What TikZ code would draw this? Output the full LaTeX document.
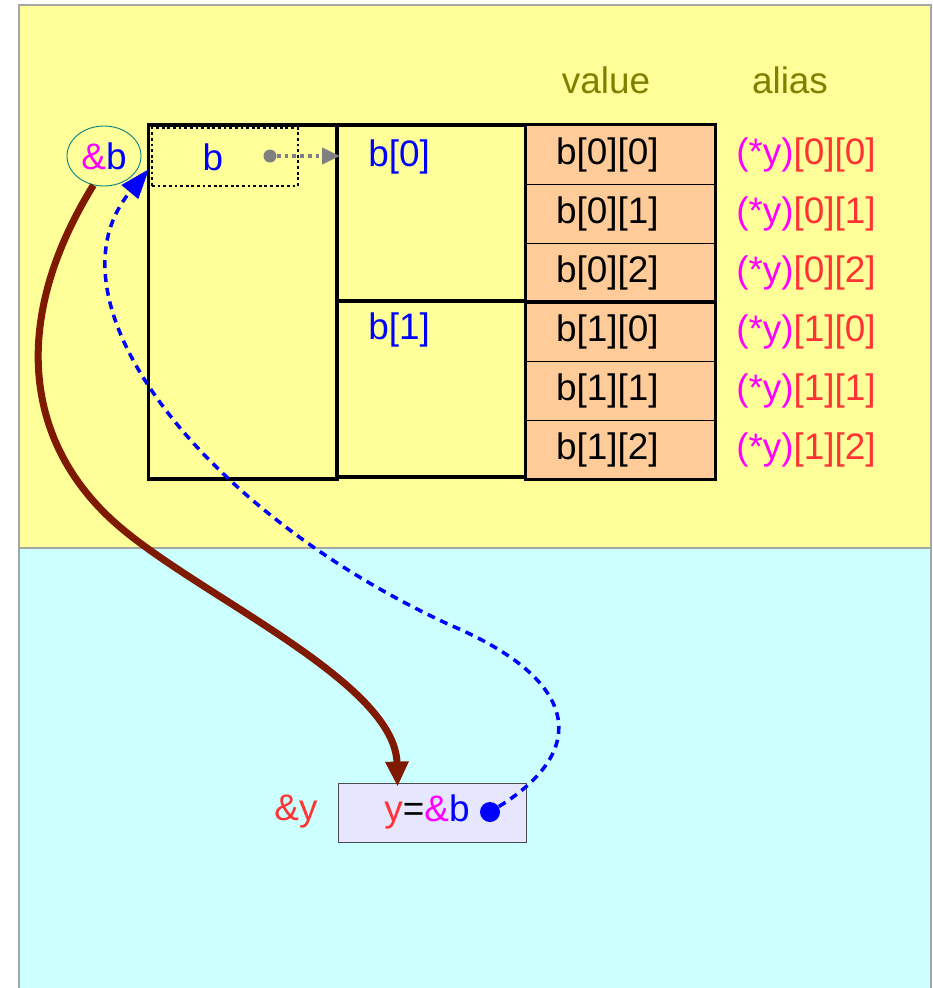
\documentclass[tikz,border=0pt]{standalone}
\usepackage{fontspec}
\setmainfont{Liberation Sans}
\usetikzlibrary{arrows.meta,positioning,calc,shapes.geometric}
\definecolor{panelyel}{HTML}{FFFF99}
\definecolor{panelcyan}{HTML}{CCFFFF}
\definecolor{cellorange}{HTML}{FFCC99}
\definecolor{boxlav}{HTML}{E6E6FF}
\definecolor{olivetxt}{HTML}{808000}
\definecolor{redtxt}{HTML}{FF3333}
\definecolor{magtxt}{HTML}{FF00FF}
\definecolor{ptrbrown}{HTML}{7F1A00}

\begin{document}
\begin{tikzpicture}[x=0.02cm, y=-0.02cm,
  every node/.style={font=\fontsize{21}{25}\selectfont},
  frame/.style={draw, line width=2pt, minimum width=3.78cm, inner sep=0pt},
  cell/.style={draw, fill=cellorange, line width=0.5pt, minimum height=1.18cm,
    text width=2.58cm, inner xsep=0.6cm, align=left},
  lbl/.style={text=blue, inner sep=0pt},
  ptr/.style={-{Triangle[length=5mm, width=4.4mm]}, line width=4pt, draw=ptrbrown},
  back/.style={-{Triangle[length=6mm, width=4.2mm]}, line width=2pt, blue, dash pattern=on 4.5pt off 3.4pt}
]
\useasboundingbox (0,0) rectangle (933,988);
\fill[panelyel] (19,5) rectangle (931,548);
\fill[panelcyan] (19,548) rectangle (931,988);
\draw[gray!70, line width=0.6pt] (19,988) -- (19,5) -- (931,5) -- (931,988) (19,548) -- (931,548);

\node[text=olivetxt] (value) at (606,80) {value};
\node[text=olivetxt] (alias) at (790,80) {alias};

\node[frame, minimum height=7.08cm] (outer) at (243,302) {};
\node[frame, minimum height=3.52cm] (b0) at (431.5,213) {};
\node[frame, minimum height=3.52cm] (b1) at (431.5,389) {};
\node[lbl, anchor=west] (b0txt) at (368,157) {b[0]};
\node[lbl, anchor=west] (b1txt) at (368,330) {b[1]};

\node[draw, line width=1.1pt, dash pattern=on 1.6pt off 1.6pt, minimum width=2.92cm, minimum height=1.16cm] (dotb) at (225,157) {};
\node[lbl] (btxt) at (213,157) {b};
\node[circle, fill=gray, inner sep=0pt, minimum size=0.26cm] (bdot) at (270,156) {};
\coordinate (b0in) at (340,156);
\draw[gray, line width=2.2pt, dash pattern=on 2.2pt off 2.2pt, -{Triangle[length=3.6mm, width=3.2mm]}] (bdot) -- (b0in);

\foreach \i in {0,1}
  \foreach \j in {0,1,2} {
    \pgfmathsetmacro{\ry}{154.5+59*(3*\i+\j)}
    \node[cell] (v\i\j) at (620.5,\ry) {b[\i][\j]};
    \node (a\i\j) at (806,\ry) {\textcolor{magtxt}{(*y)}\textcolor{redtxt}{[\i][\j]}};
  }
\draw[line width=2pt] (v00.north west) rectangle (v02.south east);
\draw[line width=2pt] (v10.north west) rectangle (v12.south east);

\node[ellipse, draw=teal, line width=0.5pt, minimum width=1.48cm, minimum height=1.2cm, inner sep=0pt] (ab) at (104,156)
  {\textcolor{magtxt}{\&}\textcolor{blue}{b}};

\node[draw=gray!60!black, fill=boxlav, line width=0.5pt, minimum width=3.76cm, minimum height=1.18cm] (ybox) at (432,812.5) {};
\node[inner sep=0pt] (ytxt) at (427,812) {\textcolor{redtxt}{y}=\textcolor{magtxt}{\&}\textcolor{blue}{b}};
\node[circle, fill=blue, inner sep=0pt, minimum size=0.4cm] (ydot) at (490,812) {};
\node[text=redtxt] (yaddr) at (296,812) {\&y};

\coordinate (yin) at ($(ybox.north west)+(60,4)$);
\coordinate (bin) at ($(dotb.west)+(-2,12)$);
\draw[ptr] (ab.-110) .. controls (10,320) and (25,440) .. (112,520)
  .. controls (190,592) and (395,680) .. (yin);
\draw[back] (ydot) .. controls (590,750) and (580,680) .. (450,625)
  .. controls (200,510) and (40,300) .. (bin);
\end{tikzpicture}
\end{document}
